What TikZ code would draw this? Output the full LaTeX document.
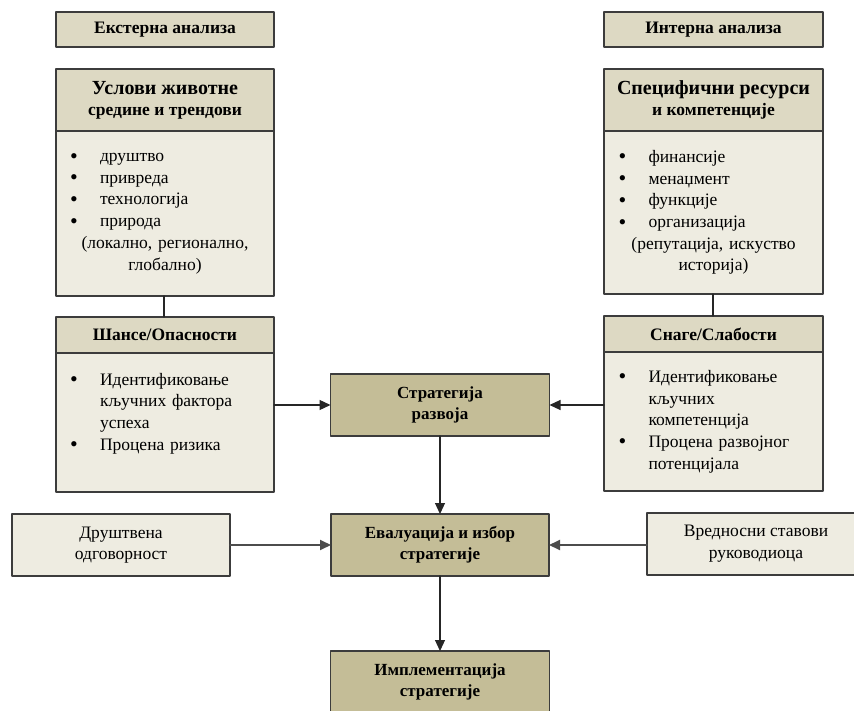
\documentclass[tikz,border=0pt]{standalone}
\usepackage{fontspec}
\setmainfont{Liberation Serif}
\usetikzlibrary{positioning,arrows.meta}

\definecolor{headtan}{RGB}{221,217,195}
\definecolor{bodytan}{RGB}{238,236,225}
\definecolor{darktan}{RGB}{196,189,151}
\definecolor{boxline}{RGB}{60,60,60}

% list helpers for the box bodies
\newcommand\blt[1]{\makebox[30pt][l]{\raisebox{-1.5pt}{\fontsize{22}{0}\selectfont\textbullet}}#1}
\newcommand\ind[1]{\hspace*{30pt}#1}
\newcommand\centline[1]{\makebox[\linewidth]{#1}}

\begin{document}
\begin{tikzpicture}[x=1pt,y=-1pt,line cap=round,line join=round,
  box/.style={draw=boxline,line width=1.4pt,inner sep=0pt,outer sep=0pt,
    minimum width=218pt,align=center,font=\fontsize{17.5}{21.7}\selectfont},
  headbox/.style={box,fill=headtan,font=\fontsize{17.5}{21}\selectfont\bfseries},
  bodybox/.style={box,fill=bodytan,text width=190pt,align=left},
  stepbox/.style={box,fill=darktan,minimum height=62pt,font=\fontsize{17}{21}\selectfont\bfseries},
  sidebox/.style={box,fill=bodytan,minimum height=62pt},
  conn/.style={line width=1.2pt,draw=black!85},
  sideconn/.style={line width=1.8pt,draw=black!70},
  >={Triangle[length=11pt,width=10pt]}]
  \useasboundingbox (0,0) rectangle (854,711);

  % external analysis column
  \node[headbox,minimum height=35pt,anchor=north west] (ext) at (56,12) {Екстерна анализа};
  \node[headbox,minimum height=62pt,anchor=north west] (envhead) at (56,69)
    {{\fontsize{20}{21}\selectfont Услови животне}\\средине и трендови};
  \node[bodybox,minimum height=165pt,below=0pt of envhead] (envbody)
    {\blt{друштво}\\ \blt{привреда}\\ \blt{технологија}\\ \blt{природа}\\
     \centline{(локално, регионално,}\\ \centline{глобално)}};
  \node[headbox,minimum height=36pt,anchor=north west] (opphead) at (56,317) {Шансе/Опасности};
  \node[bodybox,minimum height=139pt,below=0pt of opphead] (oppbody)
    {\blt{Идентификовање}\\ \ind{кључних фактора}\\ \ind{успеха}\\ \blt{Процена ризика}\\ \mbox{}};

  % internal analysis column
  \node[headbox,minimum height=35pt,minimum width=219pt,anchor=north west] (int) at (604,12) {Интерна анализа};
  \node[headbox,minimum height=62pt,minimum width=219pt,anchor=north west] (reshead) at (604,69)
    {{\fontsize{20}{21}\selectfont Специфични ресурси}\\и компетенције};
  \node[bodybox,minimum height=163pt,minimum width=219pt,below=0pt of reshead] (resbody)
    {\blt{финансије}\\ \blt{менаџмент}\\ \blt{функције}\\ \blt{организација}\\
     \centline{(репутација, искуство}\\ \centline{историја)}};
  \node[headbox,minimum height=36pt,minimum width=219pt,anchor=north west] (swhead) at (604,316) {Снаге/Слабости};
  \node[bodybox,minimum height=139pt,minimum width=219pt,below=0pt of swhead] (swbody)
    {\blt{Идентификовање}\\ \ind{кључних}\\ \ind{компетенција}\\ \blt{Процена развојног}\\ \ind{потенцијала}};

  % strategy steps
  \node[stepbox,minimum width=219pt] (strat) at (440,405) {Стратегија\\развоја};
  \node[stepbox] (eval) at (440,545) {Евалуација и избор\\стратегије};
  \node[stepbox,minimum width=219pt,anchor=north] (impl) at (440,651) {Имплементација\\стратегије};
  \node[sidebox] (soc) at (121,545) {Друштвена\\одговорност};
  \node[sidebox] (val) at (756,544) {Вредносни ставови\\руководиоца};

  % connectors
  \draw[conn] (envbody.south -| 164,0) -- (opphead.north -| 164,0);
  \draw[conn] (resbody.south -| 713,0) -- (swhead.north -| 713,0);
  \draw[conn,->] (strat.west -| oppbody.east) -- (strat.west);
  \draw[conn,->] (strat.east -| swbody.west) -- (strat.east);
  \draw[conn,->] (strat) -- (eval);
  \draw[sideconn,->] (soc) -- (eval);
  \draw[sideconn,->] (val.west |- eval.east) -- (eval.east);
  \draw[conn,->] (eval) -- (impl);
\end{tikzpicture}
\end{document}
